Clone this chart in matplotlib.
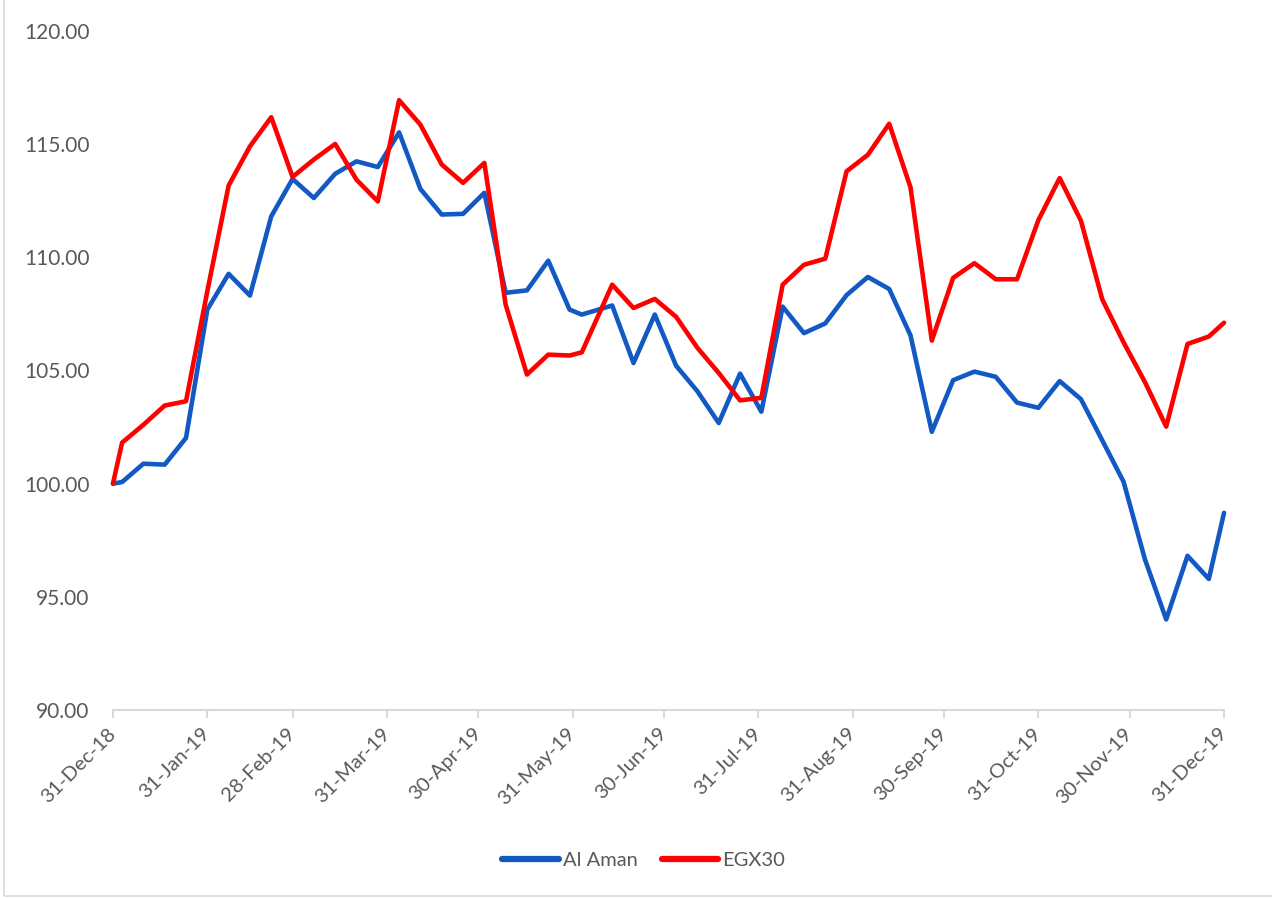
import matplotlib
matplotlib.use("Agg")
import matplotlib.pyplot as plt
import matplotlib.dates as mdates
from matplotlib.patches import Rectangle
import pandas as pd

# weekly closes, rebased to 100 at 31-Dec-18
dates = ["2018-12-31",
         "2019-01-03", "2019-01-10", "2019-01-17", "2019-01-24", "2019-01-31",
         "2019-02-07", "2019-02-14", "2019-02-21", "2019-02-28",
         "2019-03-07", "2019-03-14", "2019-03-21", "2019-03-28",
         "2019-04-04", "2019-04-11", "2019-04-18", "2019-04-25",
         "2019-05-02", "2019-05-09", "2019-05-16", "2019-05-23", "2019-05-30",
         "2019-06-03", "2019-06-13", "2019-06-20", "2019-06-27",
         "2019-07-04", "2019-07-11", "2019-07-18", "2019-07-25",
         "2019-08-01", "2019-08-08", "2019-08-15", "2019-08-22", "2019-08-29",
         "2019-09-05", "2019-09-12", "2019-09-19", "2019-09-26",
         "2019-10-03", "2019-10-10", "2019-10-17", "2019-10-24", "2019-10-31",
         "2019-11-07", "2019-11-14", "2019-11-21", "2019-11-28",
         "2019-12-05", "2019-12-12", "2019-12-19", "2019-12-26", "2019-12-31"]

al_aman = [100.00,
           100.07, 100.88, 100.84, 102.02, 107.69,
           109.27, 108.31, 111.81, 113.46,
           112.62, 113.69, 114.24, 113.99,
           115.52, 113.02, 111.89, 111.92,
           112.85, 108.43, 108.54, 109.85, 107.69,
           107.47, 107.87, 105.33, 107.47,
           105.21, 104.08, 102.68, 104.86,
           103.18, 107.82, 106.65, 107.08, 108.33,
           109.13, 108.60, 106.55, 102.29,
           104.57, 104.95, 104.72, 103.58, 103.35,
           104.53, 103.73, 101.91, 100.08,
           96.66, 94.00, 96.81, 95.79, 98.71]

egx30 = [100.00,
         101.81, 102.60, 103.45, 103.64, 108.50,
         113.17, 114.90, 116.19, 113.55,
         114.32, 115.01, 113.43, 112.47,
         116.94, 115.86, 114.10, 113.29,
         114.17, 107.91, 104.82, 105.70, 105.66,
         105.80, 108.79, 107.76, 108.16,
         107.37, 106.00, 104.89, 103.68,
         103.79, 108.79, 109.67, 109.94, 113.80,
         114.53, 115.90, 113.09, 106.32,
         109.09, 109.74, 109.03, 109.03, 111.64,
         113.50, 111.61, 108.14, 106.24,
         104.49, 102.52, 106.17, 106.50, 107.11]

tick_dates = ["2018-12-31", "2019-01-31", "2019-02-28", "2019-03-31", "2019-04-30",
              "2019-05-31", "2019-06-30", "2019-07-31", "2019-08-31", "2019-09-30",
              "2019-10-31", "2019-11-30", "2019-12-31"]
y_ticks = [90, 95, 100, 105, 110, 115, 120]

plt.rcParams['font.family'] = ['Lato', 'DejaVu Sans']
grey = "#595959"
axis_grey = "#d9d9d9"

x = pd.to_datetime(dates)
xt = pd.to_datetime(tick_dates)

fig = plt.figure(figsize=(12.72, 8.98), dpi=100)
ax = fig.add_axes([0.0888, 0.2094, 0.8735, 0.7561])

ax.plot(x, al_aman, color="#1259C3", lw=3.3, label="Al Aman",
        solid_joinstyle="round", solid_capstyle="round", clip_on=False)
ax.plot(x, egx30, color="#FF0000", lw=3.3, label="EGX30",
        solid_joinstyle="round", solid_capstyle="round", clip_on=False)

ax.set_xlim(xt[0], xt[-1])
ax.set_ylim(90, 120)
ax.set_yticks(y_ticks)
ax.yaxis.set_major_formatter(plt.FormatStrFormatter("%.2f"))
ax.set_xticks(xt)
ax.xaxis.set_major_formatter(mdates.DateFormatter("%d-%b-%y"))

for side in ["top", "right", "left"]:
    ax.spines[side].set_visible(False)
ax.spines["bottom"].set_color(axis_grey)
ax.spines["bottom"].set_linewidth(1.5)

ax.tick_params(axis="y", length=0, pad=17, labelsize=15, labelcolor=grey)
ax.tick_params(axis="x", length=6, width=1.5, color=axis_grey, pad=9,
               labelsize=14.5, labelcolor=grey)
plt.setp(ax.get_xticklabels(), rotation=45, ha="right", va="center",
         rotation_mode="anchor")

leg = fig.legend(loc="center", bbox_to_anchor=(0.506, 0.042), ncol=2, frameon=False,
                 fontsize=14.5, handlelength=2.8, handletextpad=0.2, columnspacing=1.2)
for t in leg.get_texts():
    t.set_color(grey)
for h in leg.get_lines():
    h.set_linewidth(4.5)
    h.set_solid_capstyle("round")

# thin chart-area border like the spreadsheet export
fig.patches.append(Rectangle((4 / 1272, 2 / 898), 1.2, 1.2, transform=fig.transFigure,
                             fill=False, edgecolor=axis_grey, lw=1.2))

fig.savefig("out.png", dpi=100)
